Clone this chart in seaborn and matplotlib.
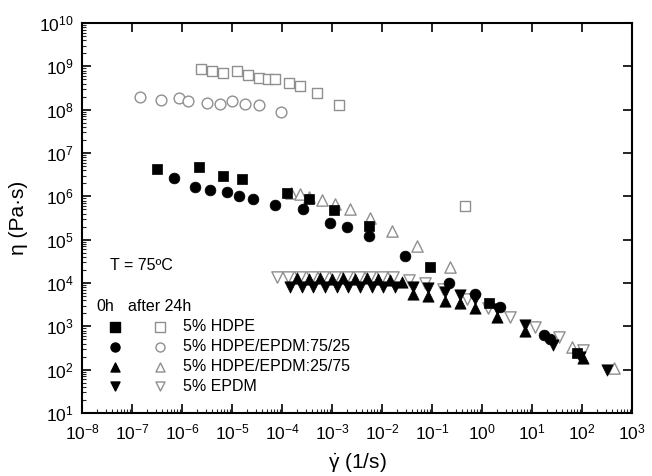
import numpy as np
import pandas as pd
import matplotlib
matplotlib.use('Agg')
import matplotlib.pyplot as plt
import matplotlib.ticker as mticker
import seaborn as sns

# Viscosidade x taxa de cisalhamento, T = 75 C

# 5% HDPE
hdpe_0h_x = [3.2e-7, 2.2e-6, 6.5e-6, 1.55e-5, 1.26e-4, 3.4e-4, 1.1e-3, 5.4e-3, 9.3e-2, 1.4, 78]
hdpe_0h_y = [4.2e6, 4.8e6, 3.0e6, 2.45e6, 1.17e6, 8.5e5, 4.8e5, 2.1e5, 2.4e4, 3.4e3, 240]
hdpe_24h_x = [2.4e-6, 4.0e-6, 6.5e-6, 1.23e-5, 2.1e-5, 3.5e-5, 5.2e-5, 7.4e-5,
              1.35e-4, 2.3e-4, 4.9e-4, 1.4e-3, 0.46]
hdpe_24h_y = [8.7e8, 7.8e8, 6.9e8, 7.6e8, 6.2e8, 5.4e8, 5.1e8, 5.2e8,
              4.2e8, 3.5e8, 2.4e8, 1.26e8, 6.0e5]

# 5% HDPE/EPDM:75/25
b7525_0h_x = [6.9e-7, 1.86e-6, 3.7e-6, 8.1e-6, 1.35e-5, 2.6e-5, 7.2e-5, 2.6e-4, 9.3e-4,
              1.95e-3, 5.6e-3, 2.9e-2, 0.22, 0.72, 2.3, 17, 23]
b7525_0h_y = [2.6e6, 1.6e6, 1.4e6, 1.23e6, 1.02e6, 8.9e5, 6.2e5, 5.0e5, 2.45e5,
              2.0e5, 1.2e5, 4.2e4, 1.02e4, 5.5e3, 2.8e3, 630, 500]
b7525_24h_x = [1.45e-7, 3.8e-7, 8.7e-7, 1.3e-6, 3.2e-6, 5.8e-6, 9.8e-6, 1.8e-5, 3.5e-5, 9.5e-5]
b7525_24h_y = [2.0e8, 1.66e8, 1.86e8, 1.55e8, 1.41e8, 1.38e8, 1.55e8, 1.35e8, 1.29e8, 8.7e7]

# 5% HDPE/EPDM:25/75
b2575_0h_x = [1.97e-4, 3.4e-4, 5.8e-4, 9.9e-4, 1.68e-3, 2.9e-3, 4.9e-3, 8.4e-3, 1.45e-2,
              2.5e-2, 4.2e-2, 8.3e-2, 0.18, 0.36, 0.72, 2.0, 7.2, 106]
b2575_0h_y = [1.27e4, 1.25e4, 1.27e4, 1.25e4, 1.27e4, 1.25e4, 1.27e4, 1.22e4, 1.18e4,
              1.05e4, 5.6e3, 5.0e3, 3.8e3, 3.4e3, 2.7e3, 1.64e3, 780, 186]
b2575_24h_x = [1.5e-4, 2.3e-4, 3.5e-4, 6.2e-4, 1.17e-3, 2.3e-3, 5.8e-3, 1.6e-2, 5.1e-2,
               0.23, 62, 430]
b2575_24h_y = [1.17e6, 1.11e6, 9.8e5, 8.2e5, 6.7e5, 5.0e5, 3.1e5, 1.61e5, 7.3e4,
               2.4e4, 340, 107]

# 5% EPDM
epdm_0h_x = [1.45e-4, 2.48e-4, 4.2e-4, 7.2e-4, 1.24e-3, 2.1e-3, 3.6e-3, 6.2e-3, 1.06e-2,
             1.82e-2, 4.2e-2, 8.3e-2, 0.18, 0.36, 0.72, 2.0, 7.2, 26, 91, 312]
epdm_0h_y = [8.2e3, 8.2e3, 8.2e3, 8.2e3, 8.2e3, 8.2e3, 8.2e3, 8.2e3, 8.1e3,
             7.9e3, 8.1e3, 7.6e3, 6.2e3, 5.3e3, 4.3e3, 2.5e3, 1.07e3, 370, 196, 98]
epdm_24h_x = [7.8e-5, 1.34e-4, 2.29e-4, 3.9e-4, 6.7e-4, 1.15e-3, 1.97e-3, 3.4e-3, 5.8e-3,
              9.9e-3, 1.68e-2, 3.4e-2, 7.2e-2, 0.164, 0.49, 1.34, 3.6, 11.5, 34, 106]
epdm_24h_y = [1.38e4, 1.38e4, 1.38e4, 1.38e4, 1.38e4, 1.38e4, 1.38e4, 1.38e4, 1.38e4,
              1.38e4, 1.38e4, 1.17e4, 1.02e4, 7.1e3, 4.2e3, 2.6e3, 1.66e3, 950, 570, 280]

labels = ['5% HDPE', '5% HDPE/EPDM:75/25', '5% HDPE/EPDM:25/75', '5% EPDM']
markers = ['s', 'o', '^', 'v']
sizes = [54, 60, 66, 66]

series_0h = [(hdpe_0h_x, hdpe_0h_y), (b7525_0h_x, b7525_0h_y),
             (b2575_0h_x, b2575_0h_y), (epdm_0h_x, epdm_0h_y)]
series_24h = [(hdpe_24h_x, hdpe_24h_y), (b7525_24h_x, b7525_24h_y),
              (b2575_24h_x, b2575_24h_y), (epdm_24h_x, epdm_24h_y)]

sns.set_theme(style='ticks')
plt.rcParams['font.family'] = ['Liberation Sans', 'DejaVu Sans']
plt.rcParams['mathtext.fontset'] = 'custom'
plt.rcParams['mathtext.rm'] = 'Liberation Sans'
plt.rcParams['mathtext.it'] = 'Liberation Sans:italic'
plt.rcParams['mathtext.default'] = 'regular'
plt.rcParams['text.color'] = 'black'
plt.rcParams['axes.labelcolor'] = 'black'

gray = '#8f8f8f'

fig = plt.figure(figsize=(6.52, 4.76), dpi=100)
ax = fig.add_axes([0.1258, 0.1324, 0.8435, 0.8193])

# Símbolos abertos (após 24h)
for (x, y), m, s in zip(series_24h, markers, sizes):
    sns.scatterplot(x=x, y=y, marker=m, s=s, facecolor='white', edgecolor=gray,
                    linewidth=1.0, ax=ax, zorder=2)
# Símbolos cheios (0h)
for (x, y), m, s in zip(series_0h, markers, sizes):
    sns.scatterplot(x=x, y=y, marker=m, s=s, color='black', edgecolor='black',
                    linewidth=0.5, ax=ax, zorder=3)

ax.set_xscale('log')
ax.set_yscale('log')
ax.set_xlim(1e-8, 1e3)
ax.set_ylim(1e1, 1e10)
ax.xaxis.set_major_locator(mticker.LogLocator(base=10, numticks=100))
ax.yaxis.set_major_locator(mticker.LogLocator(base=10, numticks=100))
ax.xaxis.set_minor_locator(mticker.LogLocator(base=10, subs=np.arange(2, 10), numticks=200))
ax.yaxis.set_minor_locator(mticker.LogLocator(base=10, subs=np.arange(2, 10), numticks=200))
ax.xaxis.set_minor_formatter(mticker.NullFormatter())
ax.yaxis.set_minor_formatter(mticker.NullFormatter())

ax.tick_params(which='major', direction='in', length=6.5, width=1.2,
               top=True, right=True, labelsize=12.5, colors='black')
ax.tick_params(axis='x', which='major', pad=7)
ax.tick_params(axis='y', which='major', pad=6)
ax.tick_params(which='minor', direction='in', length=3, width=0.8,
               top=False, right=False)
for sp in ax.spines.values():
    sp.set_linewidth(1.5)
    sp.set_color('black')

ax.set_xlabel(r'$\dot{\gamma}$ (1/s)', fontsize=15, labelpad=6)
ax.set_ylabel('η (Pa·s)', fontsize=15, labelpad=8)

# Legenda manual
tr = ax.transAxes
fs = 11.5
ax.text(0.051, 0.379, 'T = 75ºC', transform=tr, fontsize=fs, va='center')
ax.text(0.027, 0.272, '0h', transform=tr, fontsize=fs, va='center')
ax.text(0.084, 0.272, 'after 24h', transform=tr, fontsize=fs, va='center')
rows = [0.221, 0.170, 0.119, 0.068]
for yy, m, lab in zip(rows, markers, labels):
    ax.scatter([0.060], [yy], transform=tr, marker=m, s=42, color='black', zorder=4)
    ax.scatter([0.142], [yy], transform=tr, marker=m, s=42, facecolor='white',
               edgecolor=gray, linewidth=1.0, zorder=4)
    ax.text(0.184, yy, lab, transform=tr, fontsize=fs, va='center')

fig.savefig('out.png', dpi=100)
